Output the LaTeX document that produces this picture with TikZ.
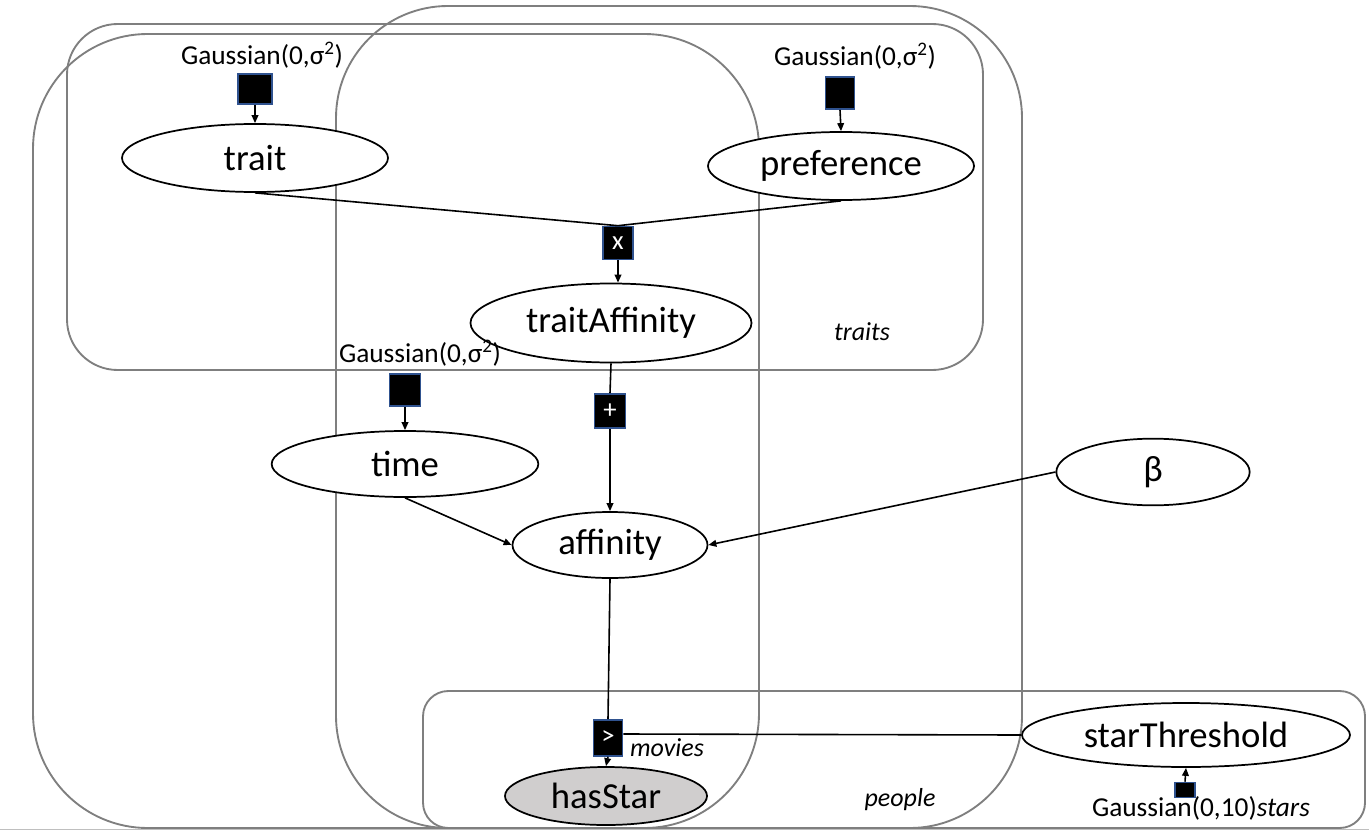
\documentclass[tikz,border=0pt]{standalone}
\usepackage{fontspec}
\setmainfont{Carlito}
\usetikzlibrary{shapes.geometric,arrows.meta}
\definecolor{plategray}{HTML}{7F7F7F}
\definecolor{facblue}{HTML}{2F528F}
\definecolor{obsgray}{HTML}{D0CECE}
\tikzset{
  plate/.style={draw=plategray, line width=1.4pt, rounded corners=#1},
  var/.style={ellipse, draw=black, line width=1.3pt, fill=white, inner sep=0pt,
              font=\fontsize{27.5}{30}\selectfont},
  fac/.style={rectangle, draw=facblue, line width=1.2pt, fill=black, inner sep=0pt,
              text=white, font=\fontsize{20}{22}\selectfont},
  edge/.style={line width=1.2pt, draw=black},
  arr/.style={edge, -{Triangle[length=6pt,width=5pt]}},
  lbl/.style={inner sep=0pt, font=\fontsize{20.5}{23}\selectfont},
  ilbl/.style={lbl, font=\fontsize{19.5}{22}\selectfont\itshape},
}
\begin{document}
\begin{tikzpicture}[x=0.75pt,y=-0.75pt]
\useasboundingbox (0,0) rectangle (1369,831);
% bottom border line
\draw[gray!50, line width=1pt] (0,829.5) -- (1369,829.5);
% plates
\draw[plate=86pt] (33,34) rectangle (759,828);
\draw[plate=84pt] (336,6) rectangle (1022,828);
\draw[plate=38pt] (67,24) rectangle (983,370);
\draw[plate=19pt] (423,691) rectangle (1365,828);
% plate labels
\node[ilbl] (lt) at (862,332) {traits};
\node[ilbl] (lm) at (667,748) {movies};
\node[ilbl] (lp) at (900,800) {people};
% variables
\node[var, minimum width=199.5pt, minimum height=51pt] (trait) at (255,158) {trait};
\node[var, minimum width=199.5pt, minimum height=51pt] (preference) at (841,166) {preference};
\node[var, minimum width=210.75pt, minimum height=59.25pt] (traitAffinity) at (611,323) {traitAffinity};
\node[var, minimum width=200pt, minimum height=49.5pt] (time) at (405,464) {time};
\node[var, minimum width=146.25pt, minimum height=49.5pt] (affinity) at (610,545) {affinity};
\node[var, minimum width=145pt, minimum height=50pt] (beta) at (1153,472) {β};
\node[var, minimum width=246pt, minimum height=48pt] (starThreshold) at (1186,735) {starThreshold};
\node[var, fill=obsgray, minimum width=151.5pt, minimum height=43.5pt] (hasStar) at (606,796) {hasStar};
% factors
\node[fac, minimum width=25.5pt, minimum height=22.5pt] (f1) at (255,89) {};
\node[fac, minimum width=21.75pt, minimum height=24pt] (f2) at (840,93) {};
\node[fac, minimum width=22.5pt, minimum height=24.75pt] (fx) at (618,243) {x};
\node[fac, minimum width=23.25pt, minimum height=25.5pt] (fp) at (610,411) {+};
\node[fac, minimum width=23.25pt, minimum height=24pt] (f3) at (405,390) {};
\node[fac, minimum width=21.75pt, minimum height=27pt] (fg) at (608,738) {>};
\node[fac, minimum width=15pt, minimum height=11.25pt] (f4) at (1185,790) {};
% prior labels
\node[lbl] (g1) at (262,55) {Gaussian(0,σ\textsuperscript{2})};
\node[lbl] (g2) at (855,56) {Gaussian(0,σ\textsuperscript{2})};
\node[lbl] (g3) at (420,353) {Gaussian(0,σ\textsuperscript{2})};
\node[lbl] (g4) at (1201,808) {Gaussian(0,10)\textit{stars}};
% edges
\draw[edge] (trait.south) -- (fx.north);
\draw[edge] (preference.south) -- (fx.north);
\draw[arr] (f1.south) -- (trait.north);
\draw[arr] (f2.south) -- (preference.north);
\draw[arr] (f3.south) -- (time.north);
\draw[arr] (fx.south) -- (fx.south |- traitAffinity.north);
\draw[edge] (traitAffinity.south) -- (fp.north);
\draw[arr] (fp.south) -- (affinity.north);
\draw[arr] (time.south) -- (affinity.west);
\draw[arr] (beta.west) -- (affinity.east);
\draw[edge] (affinity.south) -- (fg.north);
\draw[arr] (fg.south) -- (hasStar.north);
\draw[edge] ([yshift=3pt]fg.east) -- (starThreshold.west);
\draw[arr] (f4.north) -- (starThreshold.south);
\end{tikzpicture}
\end{document}
